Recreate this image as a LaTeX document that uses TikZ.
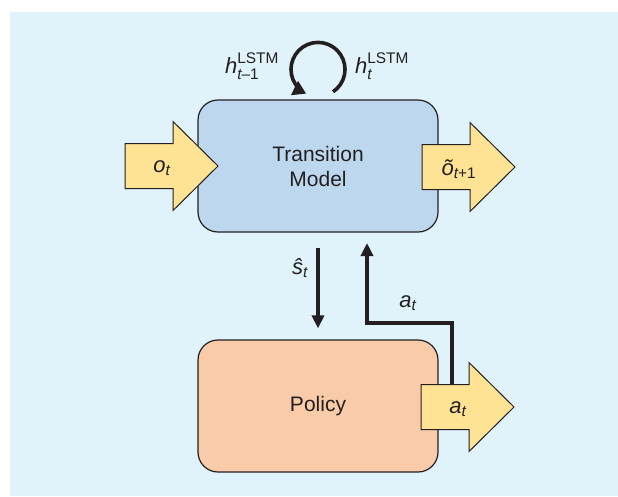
\documentclass[tikz,border=0pt]{standalone}
\usepackage{amsmath}
\usepackage{fontspec}
\setmainfont{Liberation Sans}
\usepackage{tikz}
\usetikzlibrary{calc,arrows.meta,positioning}

\definecolor{bgblue}{HTML}{E0F2FA}
\definecolor{modelblue}{HTML}{BDD7EE}
\definecolor{policyorange}{HTML}{F9CBA9}
\definecolor{arrowyellow}{HTML}{FFE394}
\definecolor{inkgray}{HTML}{231F20}

\newcommand{\vv}[1]{\textit{#1}}

\tikzset{
  block/.style={draw=inkgray, line width=1.2pt, rounded corners=20pt,
    minimum width=240pt, minimum height=132pt, align=center,
    font=\fontsize{21}{25}\selectfont, text=inkgray},
  flow/.style={draw=inkgray, line width=3.6pt, -{Triangle[length=13pt,width=12pt]}},
  lbl/.style={font=\fontsize{22}{26}\selectfont, text=inkgray, inner sep=0pt},
  fatarrow/.pic={
    \path[fill=arrowyellow, draw=inkgray, line width=1pt, line join=miter]
      (0,-22.5) -- (48,-22.5) -- (48,-44.5) -- (93,0) -- (48,44.5) -- (48,22.5) -- (0,22.5) -- cycle;
    \node[lbl] (-text) at (37,2) {#1};
    \coordinate (-top) at (31,-22.5);
  }
}

\begin{document}
\begin{tikzpicture}[x=1pt, y=-1pt]
   \useasboundingbox (0,0) rectangle (618,496);
   \fill[bgblue] (10,12) rectangle (618,496);

   % the two boxes
   \node[block, fill=modelblue] (trans) at (318,166) {Transition\\Model};
   \node[block, fill=policyorange] (policy) at (318,406) {Policy};

   % big yellow arrows
   \pic (oin) at (125,166) {fatarrow={$\vv{o}_{\vv{t}}$}};
   \pic (oout) at (422,167) {fatarrow={$\vv{õ}_{\vv{t}\textnormal{+1}}$}};
   \pic (aout) at (421,407) {fatarrow={$\vv{a}_{\vv{t}}$}};

   % recurrent state
   \coordinate (loopc) at ([yshift=30pt]trans.north);
   \draw[flow, -{Triangle[length=13pt,width=15pt]}] ($(loopc)+(56:27)$) arc[start angle=56, end angle=-244, radius=27];
   \node[lbl] (hprev) at (252,66) {$\vv{h}^{\textnormal{LSTM}}_{\vv{t}\textnormal{–1}}$};
   \node[lbl] (hnext) at (382,66) {$\vv{h}^{\textnormal{LSTM}}_{\vv{t}}$};

   % state to policy, action back
   \draw[flow] ([yshift=-15pt]trans.south) -- ([yshift=11pt]policy.north);
   \node[lbl] (shat) at (300,268) {$\vv{ŝ}_{\vv{t}}$};

   \coordinate (bend) at (367,323);
   \coordinate (atip) at (367,243);
   \draw[flow, line join=miter] (aout-top) |- (bend) -- (atip);
   \node[lbl] (afb) at (408,303) {$\vv{a}_{\vv{t}}$};
\end{tikzpicture}
\end{document}
